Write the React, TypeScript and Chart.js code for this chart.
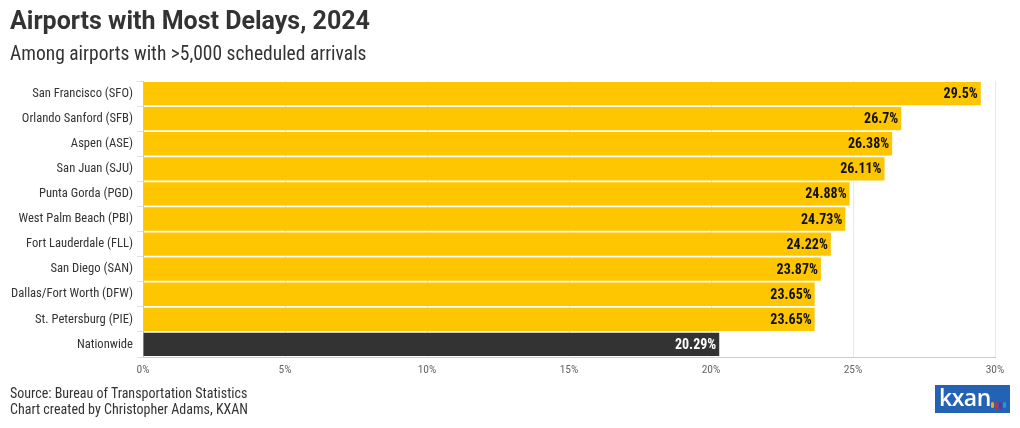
import React, { useEffect, useRef } from "react";
import { Chart, registerables } from "chart.js";

Chart.register(...registerables);

const categories = [
  "San Francisco (SFO)",
  "Orlando Sanford (SFB)",
  "Aspen (ASE)",
  "San Juan (SJU)",
  "Punta Gorda (PGD)",
  "West Palm Beach (PBI)",
  "Fort Lauderdale (FLL)",
  "San Diego (SAN)",
  "Dallas/Fort Worth (DFW)",
  "St. Petersburg (PIE)",
  "Nationwide",
];
const delayPct = [29.5, 26.7, 26.38, 26.11, 24.88, 24.73, 24.22, 23.87, 23.65, 23.65, 20.29];
const barColors = [
  "#fec600", "#fec600", "#fec600", "#fec600", "#fec600", "#fec600",
  "#fec600", "#fec600", "#fec600", "#fec600", "#333333",
];
const labelColors = [
  "#111111", "#111111", "#111111", "#111111", "#111111", "#111111",
  "#111111", "#111111", "#111111", "#111111", "#ffffff",
];
const xTicks = [0, 5, 10, 15, 20, 25, 30];

const COND = "'Roboto Condensed', 'Liberation Sans Narrow', 'DejaVu Sans Condensed', Roboto, sans-serif";

const valueLabels = {
  id: "valueLabels",
  afterDatasetsDraw(chart: any) {
    const ctx = chart.ctx;
    const meta = chart.getDatasetMeta(0);
    ctx.save();
    ctx.font = `bold 14px ${COND}`;
    ctx.textAlign = "right";
    ctx.textBaseline = "middle";
    meta.data.forEach((bar: any, i: number) => {
      ctx.fillStyle = labelColors[i];
      ctx.fillText(`${delayPct[i]}%`, bar.x - 3, bar.y + 1);
    });
    ctx.restore();
  },
};

function ChartCanvas() {
  const ref = useRef<HTMLCanvasElement | null>(null);
  useEffect(() => {
    if (!ref.current) return;
    const chart = new Chart(ref.current, {
      type: "bar",
      data: {
        labels: categories,
        datasets: [
          {
            data: delayPct,
            backgroundColor: barColors,
            barPercentage: 1,
            categoryPercentage: 0.93,
          },
        ],
      },
      options: {
        indexAxis: "y",
        animation: false,
        responsive: false,
        maintainAspectRatio: false,
        layout: { padding: { top: 81, right: 25, bottom: 48, left: 0 } },
        plugins: { legend: { display: false }, tooltip: { enabled: false } },
        scales: {
          x: {
            min: 0,
            max: 30,
            afterBuildTicks: (s: any) => {
              s.ticks = xTicks.map((v) => ({ value: v }));
            },
            afterFit: (s: any) => {
              s.height = 23;
            },
            ticks: {
              callback: (v: any) => `${v}%`,
              color: "#666666",
              font: { family: COND, size: 11.5 },
              padding: 6,
              maxRotation: 0,
            },
            grid: { color: "#e8e8e8", drawTicks: false },
            border: { color: "#cccccc" },
          },
          y: {
            afterFit: (s: any) => {
              s.width = 143;
            },
            ticks: {
              color: "#333333",
              font: { family: COND, size: 12.6 },
              padding: 4,
            },
            grid: { drawOnChartArea: false, color: "#e0e0e0", tickLength: 6 },
            border: { color: "#cccccc" },
          },
        },
      },
      plugins: [valueLabels],
    });
    return () => chart.destroy();
  }, []);
  return <canvas ref={ref} width={1020} height={428} style={{ position: "absolute", left: 0, top: 0 }} />;
}

export default function App() {
  return (
    <div
      style={{
        position: "fixed",
        left: 0,
        top: 0,
        width: 1020,
        height: 428,
        background: "#ffffff",
        overflow: "hidden",
        fontFamily: "Roboto, sans-serif",
        color: "#333333",
      }}
    >
      <ChartCanvas />
      <div style={{ position: "absolute", left: 10, top: 6, fontSize: 25, fontWeight: 700, color: "#333333", whiteSpace: "nowrap" }}>
        Airports with Most Delays, 2024
      </div>
      <div style={{ position: "absolute", left: 10, top: 42, fontSize: 19.5, color: "#333333", whiteSpace: "nowrap", fontFamily: COND }}>
        Among airports with &gt;5,000 scheduled arrivals
      </div>
      <div style={{ position: "absolute", left: 10, top: 385, fontSize: 14, lineHeight: "16px", color: "#333333", fontFamily: COND }}>
        <div>Source: Bureau of Transportation Statistics</div>
        <div>Chart created by Christopher Adams, KXAN</div>
      </div>
      <div
        style={{
          position: "absolute",
          left: 935,
          top: 385,
          width: 75,
          height: 28,
          background: "#2462b3",
          color: "#ffffff",
          fontFamily: "'Open Sans', sans-serif",
          fontWeight: 600,
          fontSize: 23,
          lineHeight: "25px",
          paddingLeft: 4,
          boxSizing: "border-box",
          letterSpacing: -0.5,
        }}
      >
        kxan
        <span style={{ position: "absolute", right: 4, bottom: 4, display: "flex", gap: 1 }}>
          <span style={{ width: 3, height: 6, background: "#f6a21b", borderRadius: 2 }} />
          <span style={{ width: 3, height: 7, background: "#e4232b", borderRadius: 2 }} />
          <span style={{ width: 3, height: 7, background: "#7b2a8c", borderRadius: 2 }} />
          <span style={{ width: 3, height: 6, background: "#1f9ad6", borderRadius: 2 }} />
        </span>
      </div>
    </div>
  );
}
